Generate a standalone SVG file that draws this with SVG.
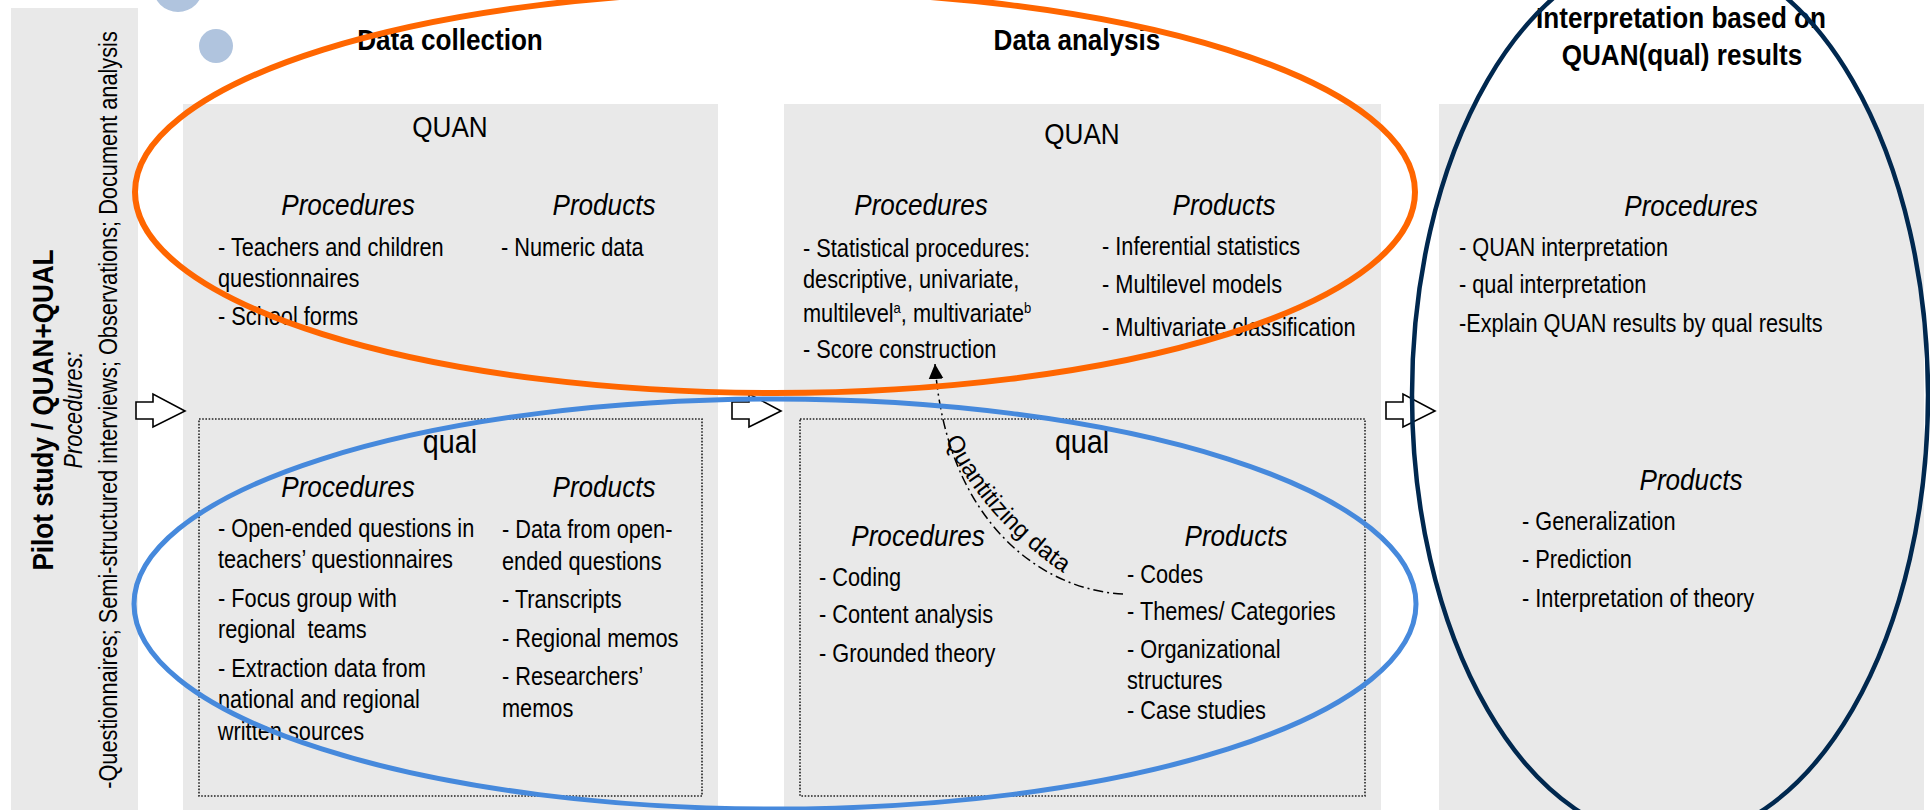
<svg xmlns="http://www.w3.org/2000/svg" width="1930" height="810" viewBox="0 0 1930 810">
  <defs>
    <style>
      text { font-family: "Liberation Sans", Arial, sans-serif; fill: #000; }
      /* narrow rendering: horizontal squeeze about the text's own box */
      .n { transform-box: fill-box; transform-origin: 0 0; transform: scaleX(0.87); }
      .nc { text-anchor: middle; transform-box: fill-box; transform-origin: 50% 0; transform: scaleX(0.87); }
      .title { font-size: 30px; font-weight: bold; }
      .sec { font-size: 30px; }
      .qual { font-size: 33px; }
      .head { font-size: 30px; font-style: italic; }
      .body { font-size: 25px; }
      .sup { font-size: 15px; }
      .panel { fill: #e9e9e9; }
      .dotbox { fill: none; stroke: #222; stroke-width: 1.6; stroke-dasharray: 1.6 1.6; }
      .blockarrow { fill: #fff; stroke: #000; stroke-width: 1.6; stroke-linejoin: miter; }
      .link { fill: none; stroke: #000; stroke-width: 1.5; stroke-dasharray: 10 4 2 4; }
      .ring { fill: none; }
    </style>
    <marker id="tip" viewBox="0 0 10 10" refX="10" refY="5" markerUnits="userSpaceOnUse" markerWidth="15" markerHeight="16" orient="auto">
      <path d="M0,0 L10,5 L0,10 Z" fill="#000"/>
    </marker>
    <path id="qlabel" d="M945,440 Q985,522 1068,576"/>
  </defs>

  <rect width="1930" height="810" fill="#fff"/>

  <!-- decorative dots, top left -->
  <g id="dots" fill="#b0c4de">
    <circle cx="178" cy="-13" r="25"/>
    <circle cx="216" cy="46" r="17"/>
  </g>

  <!-- left band: pilot study -->
  <g id="pilot">
    <rect class="panel" x="11" y="8" width="127" height="802"/>
    <text class="title" text-anchor="middle" transform="translate(53,410) rotate(-90) scale(0.87,1)">Pilot study / QUAN+QUAL</text>
    <text class="body" font-style="italic" text-anchor="middle" transform="translate(82,410) rotate(-90) scale(0.87,1)">Procedures:</text>
    <text class="body" text-anchor="middle" transform="translate(117,410) rotate(-90) scale(0.87,1)">-Questionnaires; Semi-structured interviews; Observations; Document analysis</text>
  </g>

  <!-- column titles -->
  <g id="titles">
    <text class="title nc" x="450" y="50">Data collection</text>
    <text class="title nc" x="1077" y="50">Data analysis</text>
    <text class="title nc" x="1681" y="28">Interpretation based on</text>
    <text class="title nc" x="1682" y="65">QUAN(qual) results</text>
  </g>

  <!-- data collection -->
  <g id="collection">
    <rect class="panel" x="183" y="104" width="535" height="706"/>
    <text class="sec nc" x="450" y="137">QUAN</text>
    <text class="head nc" x="348" y="215">Procedures</text>
    <text class="head nc" x="604" y="215">Products</text>
    <text class="body n" x="218" y="256">- Teachers and children</text>
    <text class="body n" x="218" y="287">questionnaires</text>
    <text class="body n" x="218" y="325">- School forms</text>
    <text class="body n" x="501" y="256">- Numeric data</text>
  </g>
  <g id="collection-qual">
    <rect class="dotbox" x="199" y="419" width="503" height="377"/>
    <text class="qual nc" x="450" y="453">qual</text>
    <text class="head nc" x="348" y="497">Procedures</text>
    <text class="head nc" x="604" y="497">Products</text>
    <text class="body n" x="218" y="537">- Open-ended questions in</text>
    <text class="body n" x="218" y="568">teachers’ questionnaires</text>
    <text class="body n" x="218" y="607">- Focus group with</text>
    <text class="body n" x="218" y="638">regional &#160;teams</text>
    <text class="body n" x="218" y="677">- Extraction data from</text>
    <text class="body n" x="218" y="708">national and regional</text>
    <text class="body n" x="218" y="740">written sources</text>
    <text class="body n" x="502" y="538">- Data from open-</text>
    <text class="body n" x="502" y="570">ended questions</text>
    <text class="body n" x="502" y="608">- Transcripts</text>
    <text class="body n" x="502" y="647">- Regional memos</text>
    <text class="body n" x="502" y="685">- Researchers’</text>
    <text class="body n" x="502" y="717">memos</text>
  </g>

  <!-- data analysis -->
  <g id="analysis">
    <rect class="panel" x="784" y="104" width="597" height="706"/>
    <text class="sec nc" x="1082" y="144">QUAN</text>
    <text class="head nc" x="921" y="215">Procedures</text>
    <text class="head nc" x="1224" y="215">Products</text>
    <text class="body n" x="803" y="257">- Statistical procedures:</text>
    <text class="body n" x="803" y="288">descriptive, univariate,</text>
    <text class="body n" x="803" y="322">multilevel<tspan class="sup" dy="-9">a</tspan><tspan dy="9">, multivariate</tspan><tspan class="sup" dy="-9">b</tspan></text>
    <text class="body n" x="803" y="358">- Score construction</text>
    <text class="body n" x="1102" y="255">- Inferential statistics</text>
    <text class="body n" x="1102" y="293">- Multilevel models</text>
    <text class="body n" x="1102" y="336">- Multivariate classification</text>
  </g>
  <g id="analysis-qual">
    <rect class="dotbox" x="800" y="419" width="565" height="377"/>
    <text class="qual nc" x="1082" y="453">qual</text>
    <text class="head nc" x="918" y="546">Procedures</text>
    <text class="head nc" x="1236" y="546">Products</text>
    <text class="body n" x="819" y="586">- Coding</text>
    <text class="body n" x="819" y="623">- Content analysis</text>
    <text class="body n" x="819" y="662">- Grounded theory</text>
    <text class="body n" x="1127" y="583">- Codes</text>
    <text class="body n" x="1127" y="620">- Themes/ Categories</text>
    <text class="body n" x="1127" y="658">- Organizational</text>
    <text class="body n" x="1127" y="689">structures</text>
    <text class="body n" x="1127" y="719">- Case studies</text>
  </g>

  <!-- interpretation -->
  <g id="interpretation">
    <rect class="panel" x="1439" y="104" width="485" height="706"/>
    <text class="head nc" x="1691" y="216">Procedures</text>
    <text class="body n" x="1459" y="256">- QUAN interpretation</text>
    <text class="body n" x="1459" y="293">- qual interpretation</text>
    <text class="body n" x="1459" y="332">-Explain QUAN results by qual results</text>
    <text class="head nc" x="1691" y="490">Products</text>
    <text class="body n" x="1522" y="530">- Generalization</text>
    <text class="body n" x="1522" y="568">- Prediction</text>
    <text class="body n" x="1522" y="607">- Interpretation of theory</text>
  </g>

  <!-- flow arrows and the quantitizing link -->
  <g id="connectors">
    <path class="blockarrow" d="M136,402 H153 V394 L185,411 L153,427 V419 H136 Z"/>
    <path class="blockarrow" d="M732,402 H749 V394 L781,411 L749,427 V419 H732 Z"/>
    <path class="blockarrow" d="M1386,402 H1403 V394 L1435,411 L1403,427 V419 H1386 Z"/>
    <path class="link" d="M1123,594 C1040,590 946,520 935,364" marker-end="url(#tip)"/>
    <text font-size="24"><textPath href="#qlabel">Quantitizing data</textPath></text>
  </g>

  <!-- strand outlines -->
  <g id="strands" class="ring">
    <ellipse cx="775" cy="192" rx="640" ry="201" stroke="#ff6600" stroke-width="6" fill="none"/>
    <ellipse cx="775" cy="604" rx="641" ry="205" stroke="#4689dc" stroke-width="5" fill="none"/>
    <ellipse cx="1670" cy="395" rx="258" ry="445" stroke="#00284f" stroke-width="4.5" fill="none"/>
  </g>
</svg>
